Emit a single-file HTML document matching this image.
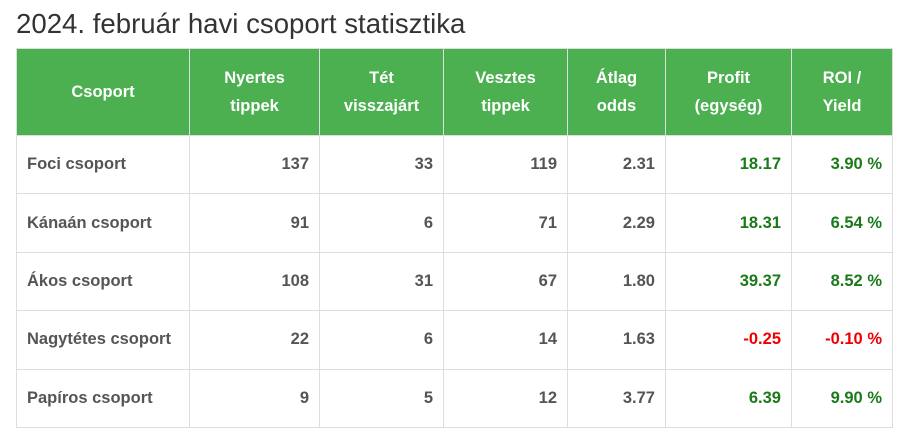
<!DOCTYPE html>
<html><head><style>
body{margin:0;background:#fff;width:912px;height:441px;overflow:hidden;font-family:"Liberation Sans",sans-serif;}
h1{position:absolute;left:16px;top:7px;margin:0;font-size:27.6px;font-weight:normal;color:#333;line-height:34px;}
table{position:absolute;left:16px;top:48px;border-collapse:collapse;table-layout:fixed;width:876px;}
td,th{border:1px solid #ddd;font-size:16.5px;font-weight:bold;}
th{background:#4caf50;color:#fff;height:86px;padding:0 6px;text-align:center;line-height:28px;border-color:#ddd;}
td{height:57.4px;padding:0 10px;text-align:right;color:#555;}
td:first-child{text-align:left;}
.g{color:#1a7a1a}.r{color:#e00}
</style></head><body>
<h1>2024. február havi csoport statisztika</h1>
<table>
<colgroup><col style="width:173px"><col style="width:130px"><col style="width:124px"><col style="width:124px"><col style="width:98px"><col style="width:126px"><col style="width:101px"></colgroup>
<tr><th>Csoport</th><th>Nyertes<br>tippek</th><th>Tét<br>visszajárt</th><th>Vesztes<br>tippek</th><th>Átlag<br>odds</th><th>Profit<br>(egység)</th><th>ROI /<br>Yield</th></tr>
<tr><td>Foci csoport</td><td>137</td><td>33</td><td>119</td><td>2.31</td><td class="g">18.17</td><td class="g">3.90 %</td></tr>
<tr><td>Kánaán csoport</td><td>91</td><td>6</td><td>71</td><td>2.29</td><td class="g">18.31</td><td class="g">6.54 %</td></tr>
<tr><td>Ákos csoport</td><td>108</td><td>31</td><td>67</td><td>1.80</td><td class="g">39.37</td><td class="g">8.52 %</td></tr>
<tr><td>Nagytétes csoport</td><td>22</td><td>6</td><td>14</td><td>1.63</td><td class="r">-0.25</td><td class="r">-0.10 %</td></tr>
<tr><td>Papíros csoport</td><td>9</td><td>5</td><td>12</td><td>3.77</td><td class="g">6.39</td><td class="g">9.90 %</td></tr>
</table>
</body></html>
